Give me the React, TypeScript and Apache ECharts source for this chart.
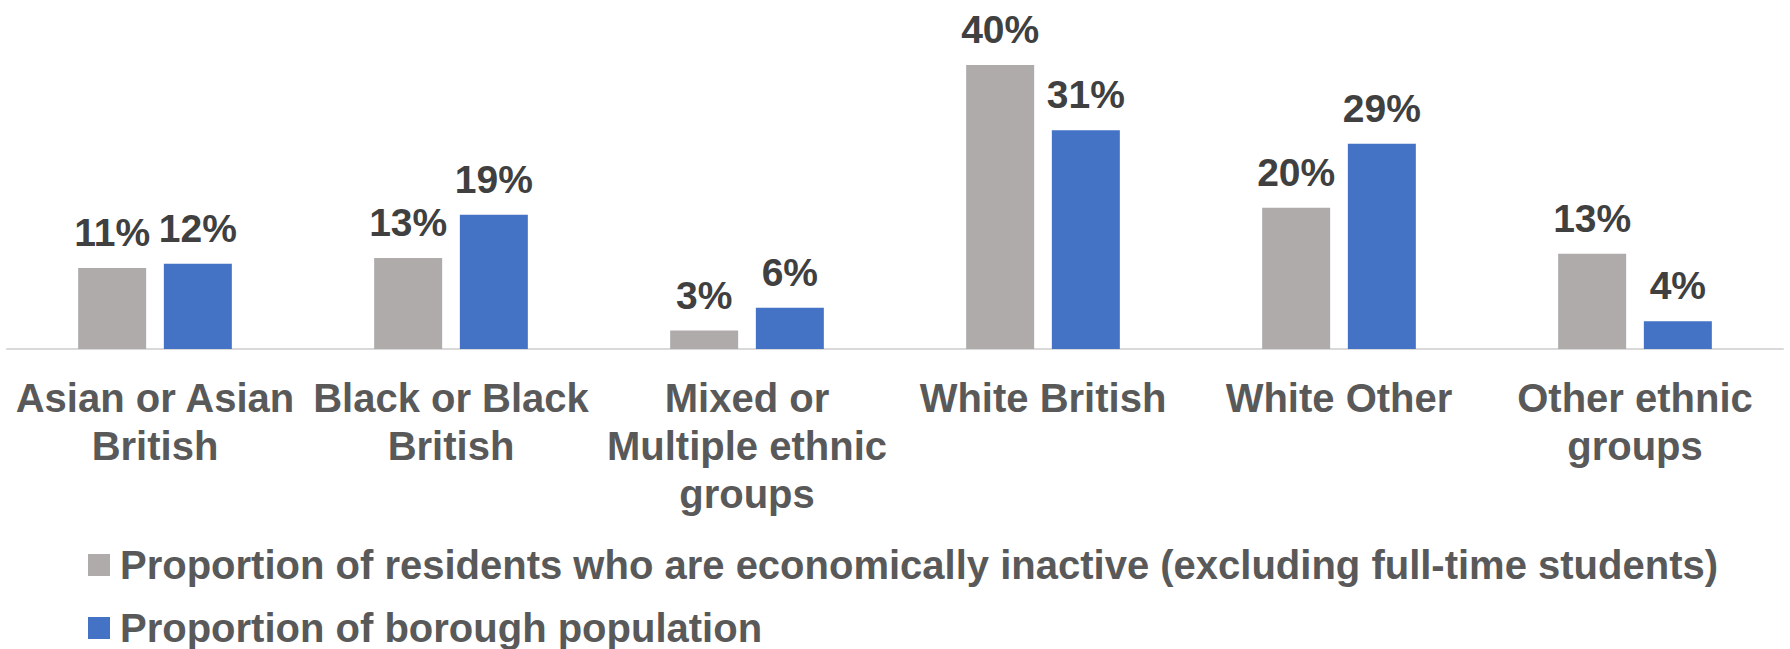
import React, { useEffect, useRef } from "react";
import * as echarts from "echarts";

const categories = [
  "Asian or Asian\nBritish",
  "Black or Black\nBritish",
  "Mixed or\nMultiple ethnic\ngroups",
  "White British",
  "White Other",
  "Other ethnic\ngroups",
];
const seriesNames = [
  "Proportion of residents who are economically inactive (excluding full-time students)",
  "Proportion of borough population",
];
const inactiveValues = [11.4, 12.8, 2.6, 40.0, 19.9, 13.4];
const populationValues = [12.0, 18.9, 5.8, 30.8, 28.9, 3.9];

const FONT = '"Liberation Sans", Arial, sans-serif';

export default function App() {
  const ref = useRef<HTMLDivElement>(null);
  useEffect(() => {
    if (!ref.current) return;
    const chart = echarts.init(ref.current, undefined, { renderer: "svg" });
    const labelOpt = {
      show: true,
      position: "top" as const,
      distance: 16,
      fontFamily: FONT,
      fontSize: 39,
      fontWeight: "bold" as const,
      color: "#404040",
      formatter: (p: any) => Math.round(p.value) + "%",
    };
    chart.setOption({
      animation: false,
      backgroundColor: "#ffffff",
      grid: { left: 7, right: 7, top: 29.5, bottom: 300, containLabel: false },
      legend: {
        orient: "vertical",
        left: 88,
        top: 545,
        padding: 0,
        itemWidth: 22,
        itemHeight: 22,
        itemGap: 23,
        icon: "rect",
        textStyle: {
          fontFamily: FONT,
          fontSize: 40,
          fontWeight: "bold",
          color: "#595959",
          lineHeight: 40,
          padding: [0, 0, 0, 5],
        },
        data: seriesNames,
      },
      xAxis: {
        type: "category",
        data: categories,
        axisLine: { show: true, lineStyle: { color: "#D9D9D9", width: 2 } },
        axisTick: { show: false },
        axisLabel: {
          interval: 0,
          margin: 25,
          fontFamily: FONT,
          fontSize: 40,
          fontWeight: "bold",
          color: "#595959",
          lineHeight: 48,
        },
      },
      yAxis: {
        type: "value",
        min: 0,
        max: 45,
        show: false,
        splitLine: { show: false },
      },
      series: [
        {
          name: seriesNames[0],
          type: "bar",
          data: inactiveValues,
          barWidth: 68,
          barGap: "26%",
          itemStyle: { color: "#AFABAB" },
          label: labelOpt,
        },
        {
          name: seriesNames[1],
          type: "bar",
          data: populationValues,
          barWidth: 68,
          barGap: "26%",
          itemStyle: { color: "#4472C4" },
          label: labelOpt,
        },
      ],
    });
    return () => chart.dispose();
  }, []);
  return (
    <div
      ref={ref}
      style={{ position: "absolute", left: 0, top: 0, width: 1790, height: 649 }}
    />
  );
}
